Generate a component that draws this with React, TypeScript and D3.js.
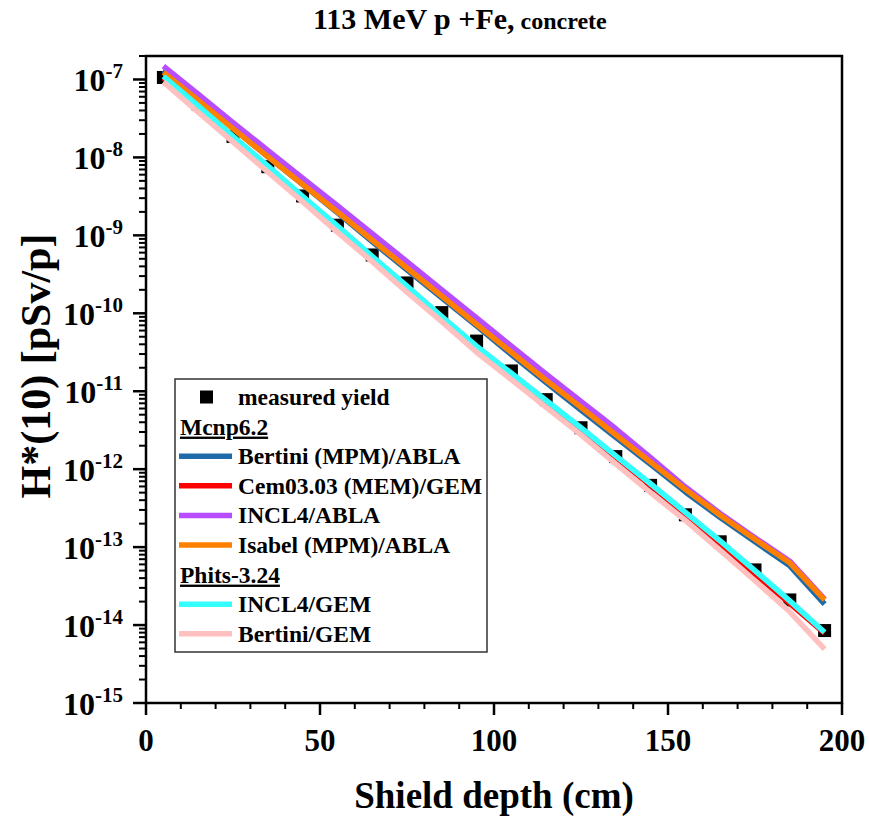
import React from "react";
import * as d3 from "d3";

const depths = [5, 15, 25, 35, 45, 55, 65, 75, 85, 95, 105, 115, 125, 135, 145, 155, 165, 175, 185, 195];

const measured = [1.06e-7, 4.8e-8, 1.86e-8, 7.6e-9, 3.2e-9, 1.35e-9, 5.6e-10, 2.45e-10, 1.02e-10, 4.4e-11, 1.82e-11, 7.8e-12, 3.4e-12, 1.45e-12, 6.2e-13, 2.6e-13, 1.17e-13, 5.1e-14, 2.1e-14, 8.5e-15];
const bertiniMPM = [1.32e-7, 5.6e-8, 2.4e-8, 1.02e-8, 4.5e-9, 1.95e-9, 8.3e-10, 3.6e-10, 1.58e-10, 6.9e-11, 2.95e-11, 1.29e-11, 5.75e-12, 2.57e-12, 1.15e-12, 5.1e-13, 2.4e-13, 1.17e-13, 5.75e-14, 1.86e-14];
const cem0303 = [1.05e-7, 4.4e-8, 1.78e-8, 7.4e-9, 3.0e-9, 1.26e-9, 5.1e-10, 2.14e-10, 8.7e-11, 3.6e-11, 1.62e-11, 7.2e-12, 3.24e-12, 1.41e-12, 6.2e-13, 2.6e-13, 1.07e-13, 4.5e-14, 1.9e-14, 7.9e-15];
const incl4Abla = [1.48e-7, 6.5e-8, 2.8e-8, 1.23e-8, 5.4e-9, 2.4e-9, 1.05e-9, 4.6e-10, 2.0e-10, 8.7e-11, 3.8e-11, 1.66e-11, 7.4e-12, 3.3e-12, 1.41e-12, 5.9e-13, 2.7e-13, 1.32e-13, 6.6e-14, 2.15e-14];
const isabelMPM = [1.23e-7, 5.4e-8, 2.34e-8, 1.02e-8, 4.5e-9, 2.0e-9, 8.7e-10, 3.8e-10, 1.66e-10, 7.2e-11, 3.16e-11, 1.38e-11, 6.2e-12, 2.75e-12, 1.23e-12, 5.5e-13, 2.57e-13, 1.26e-13, 6.3e-14, 2.1e-14];
const incl4Gem = [1.1e-7, 4.6e-8, 1.86e-8, 7.8e-9, 3.16e-9, 1.32e-9, 5.4e-10, 2.24e-10, 9.1e-11, 3.8e-11, 1.7e-11, 7.6e-12, 3.4e-12, 1.48e-12, 6.5e-13, 2.8e-13, 1.2e-13, 5.0e-14, 2.04e-14, 8.1e-15];
const bertiniGem = [9.3e-8, 3.8e-8, 1.58e-8, 6.5e-9, 2.7e-9, 1.1e-9, 4.6e-10, 1.86e-10, 7.8e-11, 3.16e-11, 1.41e-11, 6.2e-12, 2.75e-12, 1.17e-12, 5.0e-13, 2.2e-13, 9.1e-14, 3.7e-14, 1.48e-14, 4.9e-15];

const seriesNames = ["Bertini (MPM)/ABLA", "Cem03.03 (MEM)/GEM", "INCL4/ABLA", "Isabel (MPM)/ABLA", "INCL4/GEM", "Bertini/GEM"];
const seriesColors = ["#1f6aa8", "#ff0000", "#b84dff", "#ff7f00", "#33ffff", "#ffc0c0"];
const seriesValues = [bertiniMPM, cem0303, incl4Abla, isabelMPM, incl4Gem, bertiniGem];

const xTicks = [0, 50, 100, 150, 200];
const yExponents = [-7, -8, -9, -10, -11, -12, -13, -14, -15];

const FONT = "'Liberation Serif', 'Times New Roman', Times, serif";

export default function App() {
  const W = 869, H = 819;
  const left = 146, right = 842, top = 56, bottom = 703;
  const x = d3.scaleLinear().domain([0, 200]).range([left, right]);
  const y = d3.scaleLog().domain([1e-15, 2e-7]).range([bottom, top]);

  const line = d3.line<[number, number]>().x(d => x(d[0])).y(d => y(d[1]));

  const minorY: number[] = [];
  for (let e = -15; e <= -7; e++) {
    for (let m = 2; m <= 9; m++) {
      const v = m * Math.pow(10, e);
      if (v <= 2e-7 + 1e-20) minorY.push(v);
    }
  }
  const minorX = d3.range(0, 201, 10).filter(v => v % 50 !== 0);

  const legendRows = 397;
  const rowH = 29.6;
  const LF = 23.5;

  return (
    <svg width={W} height={H} style={{ position: "absolute", left: 0, top: 0, background: "#fff" }} fontFamily={FONT} fontWeight="bold">
      <rect width={W} height={H} fill="#fff" />
      {/* title */}
      <text x={313} y={29} fontSize={30}>
        113 MeV p +Fe,<tspan fontSize={24}> concrete</tspan>
      </text>

      {/* markers */}
      {depths.map((d, i) => (
        <rect key={"m" + i} x={x(d) - 6.5} y={y(measured[i]) - 6.5} width={13} height={13} fill="#000" />
      ))}

      {/* lines */}
      {seriesValues.map((vals, si) => (
        <path key={"s" + si} d={line(depths.map((d, i) => [d, vals[i]]) as [number, number][]) || ""}
          fill="none" stroke={seriesColors[si]} strokeWidth={5.5} strokeLinejoin="round" />
      ))}

      {/* frame */}
      <rect x={left} y={top} width={right - left} height={bottom - top} fill="none" stroke="#000" strokeWidth={2.5} />

      {/* x ticks */}
      {xTicks.map(t => (
        <g key={"xt" + t}>
          <line x1={x(t)} x2={x(t)} y1={bottom} y2={bottom + 12} stroke="#000" strokeWidth={2.5} />
          <text x={x(t)} y={751} fontSize={31} textAnchor="middle">{t}</text>
        </g>
      ))}
      {minorX.map(t => (
        <line key={"xm" + t} x1={x(t)} x2={x(t)} y1={bottom} y2={bottom + 6} stroke="#000" strokeWidth={2} />
      ))}

      {/* y ticks */}
      {yExponents.map(e => {
        const v = Math.pow(10, e);
        const yy = y(v);
        return (
          <g key={"yt" + e}>
            <line x1={left - 13} x2={left} y1={yy} y2={yy} stroke="#000" strokeWidth={2.5} />
            <text x={123} y={yy + 12} fontSize={32} textAnchor="end">
              10<tspan fontSize={21} dy={-13}>{"-" + (-e)}</tspan>
            </text>
          </g>
        );
      })}
      {minorY.map((v, i) => (
        <line key={"ym" + i} x1={left - 7} x2={left} y1={y(v)} y2={y(v)} stroke="#000" strokeWidth={2} />
      ))}

      {/* axis titles */}
      <text x={494} y={808} fontSize={37} textAnchor="middle">Shield depth (cm)</text>
      <text transform={`translate(50, 366) rotate(-90)`} fontSize={42} textAnchor="middle">H*(10) [pSv/p]</text>

      {/* legend */}
      <rect x={175} y={379} width={312} height={273} fill="#fff" stroke="#333" strokeWidth={1.5} />
      <rect x={200} y={legendRows - 6.5} width={13} height={13} fill="#000" />
      <text x={238} y={legendRows + 8} fontSize={LF}>measured yield</text>
      <text x={180} y={legendRows + rowH + 8} fontSize={LF} textDecoration="underline">Mcnp6.2</text>
      {seriesNames.slice(0, 4).map((n, i) => {
        const cy = legendRows + rowH * (i + 2);
        return (
          <g key={"l" + i}>
            <line x1={179} x2={232} y1={cy} y2={cy} stroke={seriesColors[i]} strokeWidth={5.5} />
            <text x={238} y={cy + 8} fontSize={LF}>{n}</text>
          </g>
        );
      })}
      <text x={180} y={legendRows + rowH * 6 + 8} fontSize={LF} textDecoration="underline">Phits-3.24</text>
      {seriesNames.slice(4).map((n, i) => {
        const cy = legendRows + rowH * (i + 7);
        return (
          <g key={"lp" + i}>
            <line x1={179} x2={232} y1={cy} y2={cy} stroke={seriesColors[i + 4]} strokeWidth={5.5} />
            <text x={238} y={cy + 8} fontSize={LF}>{n}</text>
          </g>
        );
      })}
    </svg>
  );
}
